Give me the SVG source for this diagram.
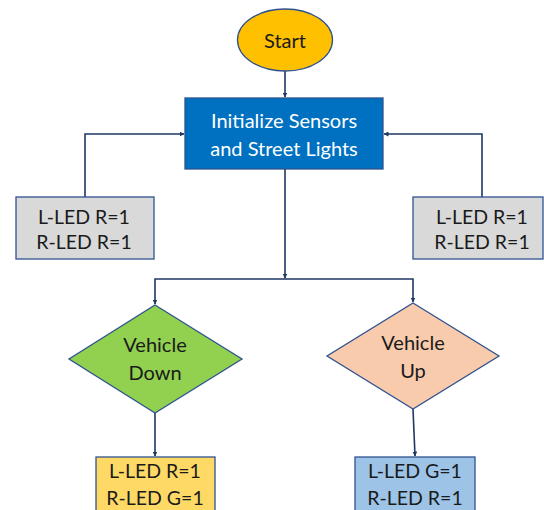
<svg xmlns="http://www.w3.org/2000/svg" width="544" height="510" viewBox="0 0 544 510">
<defs>
<marker id="ah" viewBox="0 0 10 10" refX="9" refY="5" markerWidth="5" markerHeight="5" orient="auto" markerUnits="userSpaceOnUse">
<path d="M0,0 L10,5 L0,10 z" fill="#1F3864"/>
</marker>
<style>
.ln{fill:none;stroke:#1F3864;stroke-width:1.6;marker-end:url(#ah)}
.sh{stroke:#2F528F;stroke-width:1.3}
.t{font-family:Lato,"Open Sans",sans-serif;font-size:20px;fill:#1a1a1a;text-anchor:middle}
.s{font-size:19.5px}
.w{fill:#ffffff}
</style>
</defs>
<rect width="544" height="510" fill="#ffffff"/>
<g id="connectors">
<path class="ln" d="M285,71 V97"/>
<path class="ln" d="M85,197 V134 H184"/>
<path class="ln" d="M482,197 V134 H384"/>
<path class="ln" d="M285,169 V278"/>
<path class="ln" d="M285,279 H155 V304"/>
<path class="ln" d="M285,279 H413 V302"/>
<path class="ln" d="M155,413 V456"/>
<path class="ln" d="M413,409 L415,456"/>
</g>
<g id="start">
<ellipse class="sh" cx="285" cy="40" rx="47.5" ry="31" fill="#FFC000"/>
<text class="t" x="285" y="48">Start</text>
</g>
<g id="init">
<rect class="sh" x="185" y="98" width="198" height="71" fill="#0070C0"/>
<text class="t w" x="284" y="128">Initialize Sensors</text>
<text class="t w" x="284" y="156">and Street Lights</text>
</g>
<g id="left-reset">
<rect class="sh" x="16" y="197" width="138" height="62" fill="#D9D9D9"/>
<text class="t s" x="84" y="224">L-LED R=1</text>
<text class="t s" x="84" y="249">R-LED R=1</text>
</g>
<g id="right-reset">
<rect class="sh" x="413" y="197" width="130" height="62" fill="#D9D9D9"/>
<text class="t s" x="482" y="224">L-LED R=1</text>
<text class="t s" x="482" y="249">R-LED R=1</text>
</g>
<g id="vehicle-down">
<polygon class="sh" points="155,305 242,359 155,413 69,359" fill="#92D050"/>
<text class="t" x="155" y="352">Vehicle</text>
<text class="t" x="155" y="380">Down</text>
</g>
<g id="vehicle-up">
<polygon class="sh" points="413,303 499,356 413,409 327,356" fill="#F8CBAD"/>
<text class="t" x="413" y="350">Vehicle</text>
<text class="t" x="413" y="378">Up</text>
</g>
<g id="down-result">
<rect class="sh" x="96" y="457" width="119" height="60" fill="#FFD966"/>
<text class="t s" x="155" y="478">L-LED R=1</text>
<text class="t s" x="155" y="505">R-LED G=1</text>
</g>
<g id="up-result">
<rect class="sh" x="355" y="457" width="120" height="60" fill="#9DC3E6"/>
<text class="t s" x="415" y="478">L-LED G=1</text>
<text class="t s" x="415" y="505">R-LED R=1</text>
</g>
</svg>
